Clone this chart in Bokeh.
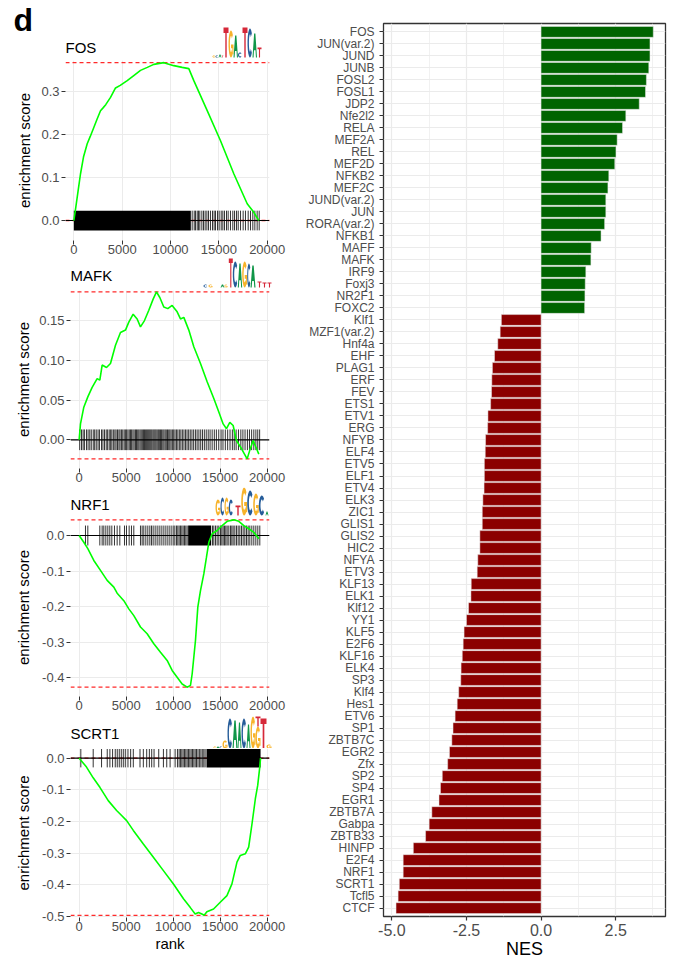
import numpy as np
from bokeh.plotting import figure
from bokeh.layouts import row, column
from bokeh.models import Range1d, FactorRange, FixedTicker, Span
from bokeh.core.properties import value
from bokeh.embed import file_html
from bokeh.resources import INLINE

FONT = "Liberation Sans"
TICK_GREY = "#4D4D4D"
GRID = "#EBEBEB"

# ------------------------------------------------------------------ data
tf_names = ["FOS", "JUN(var.2)", "JUND", "JUNB", "FOSL2", "FOSL1", "JDP2", "Nfe2l2", "RELA", "MEF2A",
            "REL", "MEF2D", "NFKB2", "MEF2C", "JUND(var.2)", "JUN", "RORA(var.2)", "NFKB1", "MAFF", "MAFK",
            "IRF9", "Foxj3", "NR2F1", "FOXC2", "Klf1", "MZF1(var.2)", "Hnf4a", "EHF", "PLAG1", "ERF",
            "FEV", "ETS1", "ETV1", "ERG", "NFYB", "ELF4", "ETV5", "ELF1", "ETV4", "ELK3",
            "ZIC1", "GLIS1", "GLIS2", "HIC2", "NFYA", "ETV3", "KLF13", "ELK1", "Klf12", "YY1",
            "KLF5", "E2F6", "KLF16", "ELK4", "SP3", "Klf4", "Hes1", "ETV6", "SP1", "ZBTB7C",
            "EGR2", "Zfx", "SP2", "SP4", "EGR1", "ZBTB7A", "Gabpa", "ZBTB33", "HINFP", "E2F4",
            "NRF1", "SCRT1", "Tcfl5", "CTCF"]
tf_nes = [3.76, 3.65, 3.65, 3.61, 3.53, 3.50, 3.29, 2.84, 2.73, 2.55,
          2.51, 2.47, 2.27, 2.24, 2.17, 2.17, 2.13, 2.01, 1.68, 1.67,
          1.50, 1.48, 1.47, 1.46, -1.33, -1.37, -1.45, -1.56, -1.63, -1.65,
          -1.66, -1.69, -1.78, -1.79, -1.86, -1.87, -1.90, -1.90, -1.91, -1.95,
          -1.97, -1.97, -2.05, -2.05, -2.12, -2.14, -2.34, -2.35, -2.43, -2.50,
          -2.58, -2.61, -2.64, -2.68, -2.69, -2.76, -2.81, -2.88, -2.95, -2.99,
          -3.07, -3.13, -3.31, -3.37, -3.42, -3.66, -3.75, -3.87, -4.28, -4.62,
          -4.62, -4.75, -4.79, -4.86]

nes_ticks = [-5, -2.5, 0, 2.5]
nes_tick_labels = ["-5.0", "-2.5", "0.0", "2.5"]
nes_minor_ticks = [-3.75, -1.25, 1.25, 3.75]

rank_ticks = [0, 5000, 10000, 15000, 20000]
rank_tick_labels = ["0", "5000", "10000", "15000", "20000"]

# FOS running enrichment score
fos_rank = [0, 200, 450, 693, 1000, 1385, 1700, 2068, 2400, 2760, 3000, 3300, 3795, 4312, 4800, 5521,
            6200, 6895, 7600, 8272, 9306, 10340, 11208, 11891, 12408, 13794, 15169, 16544, 17930,
            18612, 19129]
fos_es = [0.0, 0.030, 0.070, 0.109, 0.148, 0.179, 0.196, 0.217, 0.236, 0.256, 0.262, 0.270, 0.287,
          0.309, 0.315, 0.326, 0.338, 0.350, 0.357, 0.364, 0.368, 0.361, 0.357, 0.354, 0.326, 0.256,
          0.186, 0.109, 0.039, 0.019, 0.0]
fos_hits = [12240, 12450, 12580, 12760, 12890, 13030, 13240, 13410, 13580, 13760, 13930, 14130,
            14340, 14510, 14650, 14860, 15030, 15240, 15410, 15580, 15790, 15960, 16200, 16440,
            16620, 16820, 17000, 17240, 17510, 17750, 18030, 18270, 18510, 18720, 18960, 19170]
fos_dense_start = [0]
fos_dense_end = [12100]
fos_yticks = [0, 0.1, 0.2, 0.3]
fos_ylabels = ["0.0", "0.1", "0.2", "0.3"]

# MAFK
mafk_rank = [0, 142, 496, 922, 1383, 1915, 2200, 2447, 2908, 3333, 3865, 4397, 4929, 5283, 5745,
             6170, 6525, 6950, 7411, 7872, 8227, 8582, 9007, 9432, 9893, 10425, 10780, 11134, 11666,
             12198, 12908, 13617, 14326, 14858, 15319, 15674, 16028, 16383, 16738, 17163, 17589,
             17873, 18156, 18511, 18795, 19114]
mafk_es = [0.0, 0.020, 0.041, 0.054, 0.066, 0.077, 0.075, 0.094, 0.091, 0.096, 0.119, 0.135, 0.138,
           0.148, 0.158, 0.152, 0.142, 0.150, 0.163, 0.177, 0.186, 0.179, 0.167, 0.165, 0.169, 0.161,
           0.152, 0.154, 0.138, 0.117, 0.096, 0.073, 0.052, 0.035, 0.020, 0.014, 0.022, 0.018,
           -0.001, -0.009, -0.018, -0.024, -0.013, -0.001, -0.009, -0.018]
mafk_hits = [60, 250, 420, 560, 780, 950, 1130, 1290, 1500, 1650, 1820, 2010, 2160, 2380, 2530, 2700,
             2880, 3030, 3200, 3350, 3480, 3640, 3800, 3930, 4080, 4230, 4350, 4500, 4640, 4790, 4920,
             5050, 5190, 5330, 5460, 5580, 5720, 5850, 5990, 6100, 6230, 6350, 6480, 6600, 6720, 6840,
             6950, 7070, 7180, 7290, 7400, 7510, 7620, 7730, 7850, 7960, 8070, 8180, 8300, 8420, 8530,
             8650, 8770, 8900, 9020, 9150, 9270, 9400, 9530, 9650, 9780, 9920, 10060, 10200, 10350,
             10500, 10660, 10820, 10980, 11150, 11320, 11480, 11650, 11820, 12000, 12180, 12370, 12550,
             12740, 12930, 13120, 13320, 13520, 13730, 13930, 14150, 14380, 14600, 14850, 15100, 15300,
             15550, 15800, 16050, 16300, 16500, 16700, 16950, 17200, 17420, 17650, 17900, 18120, 18350,
             18580, 18800, 19000, 19200]
mafk_dense_start = []
mafk_dense_end = []
mafk_yticks = [0, 0.05, 0.1, 0.15]
mafk_ylabels = ["0.00", "0.05", "0.10", "0.15"]

# NRF1
nrf1_rank = [0, 496, 922, 1560, 2270, 2979, 3688, 4043, 4752, 5284, 5816, 6525, 7234, 7943, 8652,
             9362, 9893, 10425, 10957, 11489, 11843, 12021, 12375, 12624, 12908, 13262, 13546, 13794,
             14149, 14681, 15213, 15745, 16454, 16986, 17518, 18050, 18582, 19114]
nrf1_es = [0.0, -0.019, -0.037, -0.070, -0.098, -0.126, -0.145, -0.162, -0.183, -0.206, -0.225,
           -0.257, -0.276, -0.304, -0.328, -0.351, -0.379, -0.398, -0.417, -0.426, -0.421, -0.389,
           -0.295, -0.201, -0.155, -0.108, -0.061, -0.019, 0.005, 0.014, 0.028, 0.040, 0.044, 0.040,
           0.028, 0.019, 0.009, -0.009]
nrf1_hits = [674, 922, 2199, 2447, 2624, 2837, 3050, 3262, 3475, 3759, 4043, 4326, 4823, 5035, 5319,
             5567, 5815, 6525, 6702, 6879, 7092, 7305, 7518, 7695, 7872, 8085, 8298, 8510, 8723, 8936,
             9149, 9361, 9574, 9787, 10000, 10177, 10354, 10496, 10638, 10780, 10922, 11064, 11205,
             11347, 11489, 14184, 14326, 14503, 14680, 14858, 15035, 15177, 15319, 15461, 15602, 15744,
             15922, 16099, 16241, 16383, 16560, 16737, 16915, 17092, 17269, 17446, 17624, 17801, 17978,
             18156, 18369, 18581, 18794, 19006, 19219]
nrf1_dense_start = [11595]
nrf1_dense_end = [14042]
nrf1_yticks = [-0.4, -0.3, -0.2, -0.1, 0]
nrf1_ylabels = ["-0.4", "-0.3", "-0.2", "-0.1", "0.0"]

# SCRT1
scrt1_rank = [0, 783, 1494, 2205, 3095, 3984, 4517, 5051, 5762, 6829, 7896, 8963, 10031, 11098,
              11809, 12343, 12699, 13055, 13304, 13588, 14299, 15010, 15722, 16255, 16789, 17145,
              17678, 18034, 18390, 18746, 18995, 19208, 19300]
scrt1_es = [0.0, -0.028, -0.062, -0.092, -0.134, -0.165, -0.181, -0.197, -0.228, -0.271, -0.313,
            -0.355, -0.397, -0.444, -0.471, -0.492, -0.487, -0.492, -0.496, -0.485, -0.476, -0.455,
            -0.434, -0.397, -0.328, -0.307, -0.302, -0.281, -0.207, -0.128, -0.086, -0.030, 0.0]
scrt1_hits = [178, 1494, 2383, 2988, 3272, 3557, 3842, 4055, 4268, 4482, 4695, 4909, 5193, 5478, 5762,
              6474, 6829, 7185, 7470, 7719, 7968, 8466, 8964, 9319, 9675, 10209, 10458, 10635, 10778,
              10920, 11062, 11205, 11347, 11489, 11631, 11774, 11916, 12058, 12201, 12343, 12485,
              12640, 12790, 12950, 13100, 13260, 13400]
scrt1_dense_start = [13550]
scrt1_dense_end = [19300]
scrt1_yticks = [-0.5, -0.4, -0.3, -0.2, -0.1, 0]
scrt1_ylabels = ["-0.5", "-0.4", "-0.3", "-0.2", "-0.1", "0.0"]

# ------------------------------------------------------------------ sequence-logo letter shapes
LOGO_COLORS = {"A": "#109648", "C": "#255C99", "G": "#F7B32B", "T": "#D62839"}


def letter_shapes(ch):
    if ch == "T":
        return [([0, 1, 1, 0.64, 0.64, 0.36, 0.36, 0], [1, 1, 0.82, 0.82, 0, 0, 0.82, 0.82])]
    if ch == "A":
        return [([0, 0.36, 0.64, 1, 0.76, 0.67, 0.33, 0.24], [0, 1, 1, 0, 0, 0.3, 0.3, 0])]
    t = np.linspace(np.radians(42), np.radians(318), 16)
    ox = list(0.5 + 0.5 * np.cos(t))
    oy = list(0.5 + 0.5 * np.sin(t))
    ix = list(0.5 + 0.22 * np.cos(t[::-1]))
    iy = list(0.5 + 0.3 * np.sin(t[::-1]))
    shapes = [(ox + ix, oy + iy)]
    if ch == "G":
        shapes.append(([0.5, 1, 1, 0.78, 0.78, 0.5], [0.48, 0.48, 0.12, 0.12, 0.34, 0.34]))
    return shapes


# logo letters: (letter, x left, width, bottom, height) in header pixels
fos_logo = [("G", 212, 3, 57, 2), ("C", 215, 3, 57, 2), ("A", 218, 3, 57, 3), ("T", 221, 2, 57, 2),
            ("T", 223, 5, 57, 30), ("G", 228, 5, 57, 27), ("A", 233, 4.5, 57, 22),
            ("C", 237.5, 4, 57, 5), ("T", 242, 5, 57, 30), ("C", 247, 5, 57, 29),
            ("A", 252, 4.5, 57, 24), ("T", 257, 4, 57, 10)]
mafk_logo = [("C", 203, 4, 287, 3), ("G", 208, 4, 287, 3), ("A", 220, 4, 287, 3), ("G", 224, 3, 287, 3),
             ("T", 228.3, 4, 287, 30), ("C", 232.3, 5, 287, 26), ("A", 237.3, 4.4, 287, 24),
             ("G", 241.7, 5, 287, 26), ("C", 246.7, 3.5, 287, 24), ("A", 250, 5, 287, 22),
             ("T", 257, 4, 287, 6), ("T", 262, 4, 287, 5), ("T", 267, 4, 287, 5)]
nrf1_logo = [("G", 215, 5, 515, 16), ("C", 220, 4, 515, 18), ("G", 224, 4.3, 515, 18),
             ("C", 228.3, 4.4, 515, 16), ("T", 235, 5, 515, 10), ("G", 240.7, 6, 515, 28),
             ("C", 246.7, 6, 515, 25), ("G", 252.7, 5.6, 515, 22), ("C", 258.3, 6, 515, 20),
             ("A", 265, 3, 515, 4)]
scrt1_logo = [("G", 213, 3, 748, 2), ("A", 216, 3, 748, 2), ("C", 219, 3, 748, 2), ("G", 222, 5, 748, 8),
              ("C", 227, 5, 748, 30), ("A", 232, 5, 748, 28), ("A", 237, 4, 748, 26),
              ("C", 241, 5, 748, 30), ("A", 246, 4, 748, 24), ("G", 250, 5, 748, 32),
              ("G", 255, 5, 748, 22), ("T", 255, 5, 726, 10), ("T", 260, 6, 748, 30),
              ("G", 266, 5, 748, 4)]

# ------------------------------------------------------------------ layout geometry (page px)
LEFT_W = 290
PANELS = {
    "FOS":   dict(head=(0, 60), h=198, b=18, l=65, r=21, xr=(-860, 20235), yr=(-0.0466, 0.373),
                  lab_std=5, title=(65, 47)),
    "MAFK":  dict(head=(258, 290), h=197, b=19, l=70, r=21, xr=(-920, 20250), yr=(-0.0361, 0.1878),
                  lab_std=4, title=(70, 275)),
    "NRF1":  dict(head=(487, 518), h=196, b=18, l=70, r=21, xr=(-920, 20250), yr=(-0.4522, 0.0478),
                  lab_std=7, title=(70, 504)),
    "SCRT1": dict(head=(714, 748), h=215, b=46, l=70, r=21, xr=(-920, 20250), yr=(-0.503, 0.0306),
                  lab_std=7, title=(70, 732.7)),
}


def header(name, logo, tag=None):
    cfg = PANELS[name]
    top, bottom = cfg["head"]
    hp = figure(width=LEFT_W, height=bottom - top, output_backend="svg", toolbar_location=None,
                x_range=Range1d(0, LEFT_W), y_range=Range1d(bottom, top),
                x_axis_location=None, y_axis_location=None, frame_align=False,
                min_border_left=0, min_border_right=0, min_border_top=0, min_border_bottom=0)
    hp.outline_line_color = None
    hp.xgrid.visible = False
    hp.ygrid.visible = False
    xs, ys, cs = [], [], []
    for ch, lx, w, bot, hgt in logo:
        for sx, sy in letter_shapes(ch):
            xs.append([lx + u * w for u in sx])
            ys.append([bot - v * hgt for v in sy])
            cs.append(LOGO_COLORS[ch])
    hp.patches(xs=xs, ys=ys, fill_color=cs, line_color=None)
    tx, tm = cfg["title"]
    hp.text(x=[tx], y=[tm], text=[name], text_font=value(FONT), text_font_size="15px",
            text_color="black", text_baseline="middle", text_align="left")
    if tag:
        hp.text(x=[13], y=[19], text=[tag], text_font=value(FONT), text_font_size="32px",
                text_font_style="bold", text_color="black", text_baseline="middle")
    return hp


def gsea_panel(name, rank, es, hits, dstart, dend, yticks, ylabels, rug_half, xlabel=None):
    cfg = PANELS[name]
    p = figure(width=LEFT_W, height=cfg["h"], output_backend="svg", toolbar_location=None,
               x_range=Range1d(*cfg["xr"]), y_range=Range1d(*cfg["yr"]), frame_align=False,
               min_border_left=cfg["l"], min_border_right=cfg["r"],
               min_border_top=0, min_border_bottom=cfg["b"])
    p.outline_line_color = None
    p.background_fill_color = "white"
    p.border_fill_color = "white"
    for g in (p.xgrid, p.ygrid):
        g.grid_line_color = GRID
        g.grid_line_width = 1
    p.xaxis.ticker = FixedTicker(ticks=rank_ticks, minor_ticks=[])
    p.xaxis.major_label_overrides = {k: v for k, v in zip(rank_ticks, rank_tick_labels)}
    p.yaxis.ticker = FixedTicker(ticks=yticks, minor_ticks=[])
    p.yaxis.major_label_overrides = {k: v for k, v in zip(yticks, ylabels)}
    for ax in (p.xaxis, p.yaxis):
        ax.axis_line_color = None
        ax.major_tick_line_color = "#333333"
        ax.major_tick_line_width = 1
        ax.major_tick_in = 0
        ax.major_tick_out = 4
        ax.minor_tick_line_color = None
        ax.major_label_text_font = FONT
        ax.major_label_text_font_size = "13px"
        ax.major_label_text_color = TICK_GREY
        ax.axis_label_text_font = FONT
        ax.axis_label_text_font_style = "normal"
        ax.axis_label_text_font_size = "15px"
        ax.axis_label_text_color = "black"
    p.xaxis.major_label_standoff = 0
    p.yaxis.major_label_standoff = 2
    p.yaxis.axis_label = "enrichment score"
    p.yaxis.axis_label_standoff = cfg["lab_std"]
    if xlabel:
        p.xaxis.axis_label = xlabel
        p.xaxis.axis_label_standoff = 1

    # extreme score lines and zero line
    for loc in (max(es), min(es)):
        p.add_layout(Span(location=loc, dimension="width", line_color="#FF2A2A", line_width=1.3,
                          line_dash="4 3", level="underlay"))
    p.add_layout(Span(location=0, dimension="width", line_color="black", line_width=1.2, level="underlay"))

    # hit rug
    if dstart:
        p.quad(left=dstart, right=dend, bottom=-rug_half, top=rug_half, fill_color="black",
               line_color=None)
    p.segment(x0=hits, y0=-rug_half, x1=hits, y1=rug_half, line_color="black", line_width=1,
              line_alpha=0.8)
    # running enrichment score
    p.line(rank, es, line_color="#00FF00", line_width=1.6)
    return p


h1 = header("FOS", fos_logo, tag="d")
p1 = gsea_panel("FOS", fos_rank, fos_es, fos_hits, fos_dense_start, fos_dense_end,
                fos_yticks, fos_ylabels, 0.023)
h2 = header("MAFK", mafk_logo)
p2 = gsea_panel("MAFK", mafk_rank, mafk_es, mafk_hits, mafk_dense_start, mafk_dense_end,
                mafk_yticks, mafk_ylabels, 0.013)
h3 = header("NRF1", nrf1_logo)
p3 = gsea_panel("NRF1", nrf1_rank, nrf1_es, nrf1_hits, nrf1_dense_start, nrf1_dense_end,
                nrf1_yticks, nrf1_ylabels, 0.028)
h4 = header("SCRT1", scrt1_logo)
p4 = gsea_panel("SCRT1", scrt1_rank, scrt1_es, scrt1_hits, scrt1_dense_start, scrt1_dense_end,
                scrt1_yticks, scrt1_ylabels, 0.029, xlabel="rank")

# ------------------------------------------------------------------ NES bar chart
bar_colors = ["#006400" if v > 0 else "#8B0000" for v in tf_nes]
pb = figure(width=378, height=963, output_backend="svg", toolbar_location=None,
            y_range=FactorRange(factors=tf_names[::-1], range_padding=0.2, range_padding_units="absolute"),
            x_range=Range1d(-5.28, 4.17), frame_align=False,
            min_border_left=93, min_border_right=3, min_border_top=23, min_border_bottom=47)
pb.hbar(y=tf_names, left=0, right=tf_nes, height=0.9, fill_color=bar_colors,
        line_color="#E6E6E6", line_width=0.5)
pb.outline_line_color = "#333333"
pb.outline_line_width = 1.3
pb.background_fill_color = "white"
pb.xgrid.grid_line_color = GRID
pb.xgrid.grid_line_width = 1.2
pb.xgrid.minor_grid_line_color = GRID
pb.xgrid.minor_grid_line_width = 0.7
pb.ygrid.grid_line_color = GRID
pb.ygrid.grid_line_width = 1.2
pb.xaxis.ticker = FixedTicker(ticks=nes_ticks, minor_ticks=nes_minor_ticks)
pb.xaxis.major_label_overrides = {k: v for k, v in zip(nes_ticks, nes_tick_labels)}
for ax in (pb.xaxis, pb.yaxis):
    ax.axis_line_color = None
    ax.major_tick_line_color = "#333333"
    ax.major_tick_line_width = 1.2
    ax.major_tick_in = 0
    ax.major_tick_out = 4
    ax.minor_tick_line_color = None
    ax.major_label_text_font = FONT
    ax.major_label_text_color = TICK_GREY
    ax.axis_label_text_font = FONT
    ax.axis_label_text_font_style = "normal"
    ax.axis_label_text_color = "black"
pb.yaxis.major_label_text_font_size = "12px"
pb.yaxis.major_label_standoff = 5
pb.xaxis.major_label_text_font_size = "16px"
pb.xaxis.major_label_standoff = 3
pb.xaxis.axis_label = "NES"
pb.xaxis.axis_label_text_font_size = "18px"
pb.xaxis.axis_label_standoff = 0

left_col = column(h1, p1, h2, p2, h3, p3, h4, p4, spacing=0)
layout = row(left_col, pb, spacing=0)
open("out.html", "w").write(file_html(layout, INLINE))
